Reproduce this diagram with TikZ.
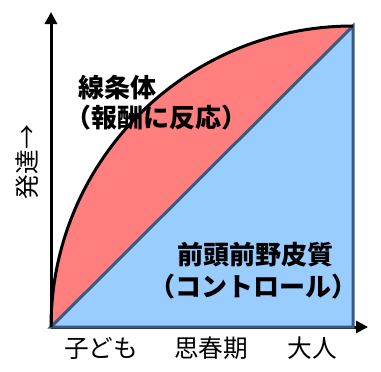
\documentclass[tikz,border=0pt]{standalone}
\usepackage{fontspec}
\newfontfamily\jpfont{Noto Sans CJK JP}
\usepackage{tikz}
\usetikzlibrary{positioning,arrows.meta}
\definecolor{rewardred}{RGB}{255,127,127}
\definecolor{controlblue}{RGB}{153,204,255}
\definecolor{edgeblue}{RGB}{59,90,128}

\begin{document}
\begin{tikzpicture}[
x=0.75pt, y=-0.75pt,
axis/.style={line width=2.25pt, -{Triangle[length=9pt, width=9pt]}},
curveline/.style={line width=2.25pt, black},
striatum/.style={fill=rewardred},
cortex/.style={fill=controlblue, draw=edgeblue, line width=2.25pt, line join=miter},
area/.style={font=\jpfont\bfseries\fontsize{19.5pt}{22pt}\selectfont, inner sep=0pt},
stage/.style={font=\jpfont\fontsize{18.5pt}{22pt}\selectfont, inner sep=0pt}]

\useasboundingbox (0,0) rectangle (381,371);

\coordinate (O) at (51,327);
\coordinate (ytip) at (51,12);
\coordinate (xtip) at (368,327);
\coordinate (top) at (353,26);
\coordinate (corner) at (353,327);

\fill[striatum] (O) .. controls +(0,-166) and +(-167,0) .. (top) -- cycle;

\draw[axis] (O) -- (ytip);
\draw[axis] (O) -- (xtip);

\filldraw[cortex] (O) -- (top) -- (corner) -- cycle;
\draw[curveline] (O) .. controls +(0,-166) and +(-167,0) .. (top);

\node[area] (str) at (117,88) {線条体};
\node[area] (strnote) at (156,118) {（報酬に反応）};
\node[area] (pfc) at (255,255) {前頭前野皮質};
\node[area] (pfcnote) at (253,287) {（コントロール）};

\node[stage] (child) at (101,348) {子ども};
\node[stage] (teen) at (211,348) {思春期};
\node[stage] (adult) at (312,348) {大人};
\node[stage, rotate=90] (growth) at (27,162) {発達→};
\end{tikzpicture}
\end{document}
